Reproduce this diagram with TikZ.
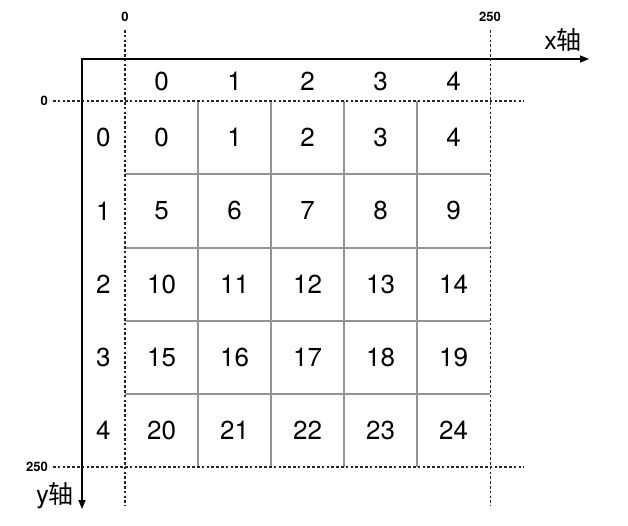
\documentclass[tikz,border=0pt]{standalone}
\usepackage{fontspec}
\setmainfont{TeX Gyre Heros}
\newfontfamily\cjk{Noto Sans CJK SC}
\usetikzlibrary{arrows.meta,positioning}

\begin{document}
\begin{tikzpicture}[
		x=1pt, y=-1pt,
		axis/.style={line width=1.6pt, -{Triangle[length=9pt,width=7pt]}},
		guide/.style={line width=1.7pt, dash pattern=on 2.6pt off 2.2pt, black!85},
		gridline/.style={line width=2pt, black!42},
		cell/.style={minimum size=73.2pt, inner sep=0pt, font=\fontsize{26}{30}\selectfont},
		index/.style={inner sep=0pt, font=\fontsize{26}{30}\selectfont},
		tick/.style={inner sep=0pt, font=\fontsize{13}{15}\selectfont\bfseries},
		axislabel/.style={inner sep=0pt, font=\fontsize{25}{30}\selectfont},
	]
	\useasboundingbox (0,0) rectangle (628,526);

	% cells of the 5x5 grid
	\foreach \r in {0,...,4} {
		\foreach \c in {0,...,4} {
			\pgfmathtruncatemacro{\idx}{5*\r+\c}
			\node[cell] (cell-\idx) at ({161.6+73*\c}, {137.6+73.2*\r}) {\idx};
		}
	}

	% headers
	\foreach \c in {0,...,4}
		\node[index, above=10pt of cell-\c] (col-\c) {\c};
	\foreach \r in {0,...,4} {
		\pgfmathtruncatemacro{\idx}{5*\r}
		\node[index, left=14pt of cell-\idx] (row-\r) {\r};
	}

	% inner grid lines
	\foreach \c in {0,...,3} {
		\pgfmathtruncatemacro{\bot}{20+\c}
		\draw[gridline] (cell-\c.north east) -- (cell-\bot.south east);
	}
	\foreach \r in {0,...,3} {
		\pgfmathtruncatemacro{\first}{5*\r}
		\pgfmathtruncatemacro{\last}{5*\r+4}
		\draw[gridline] (cell-\first.south west) -- (cell-\last.south east);
	}

	% guide lines
	\coordinate (top) at (0,30);
	\coordinate (bottom) at (0,506);
	\coordinate (left) at (53,0);
	\coordinate (right) at (524,0);
	\draw[guide] (cell-0.north west |- top) -- (cell-20.south west |- bottom);
	\draw[guide] (cell-4.north east |- top) -- (cell-24.south east |- bottom);
	\draw[guide] (left |- cell-0.north west) -- (right |- cell-4.north east);
	\draw[guide] (left |- cell-20.south west) -- (right |- cell-24.south east);

	\node[tick] (x zero) at (125,17) {0};
	\node[tick] (x max) at (490,17) {250};
	\node[tick, anchor=east] (y zero) at (48,101) {0};
	\node[tick, anchor=east] (y max) at (48,467) {250};

	% axes
	\coordinate (origin) at (82,59);
	\coordinate (x end) at (589,59);
	\coordinate (y end) at (82,509);
	\draw[axis, line cap=rect] (origin) -- (x end);
	\draw[axis, line cap=rect] (origin) -- (y end);
	\node[axislabel] (x label) at (563,40) {x{\cjk 轴}};
	\node[axislabel] (y label) at (55,496) {y{\cjk 轴}};
\end{tikzpicture}
\end{document}
